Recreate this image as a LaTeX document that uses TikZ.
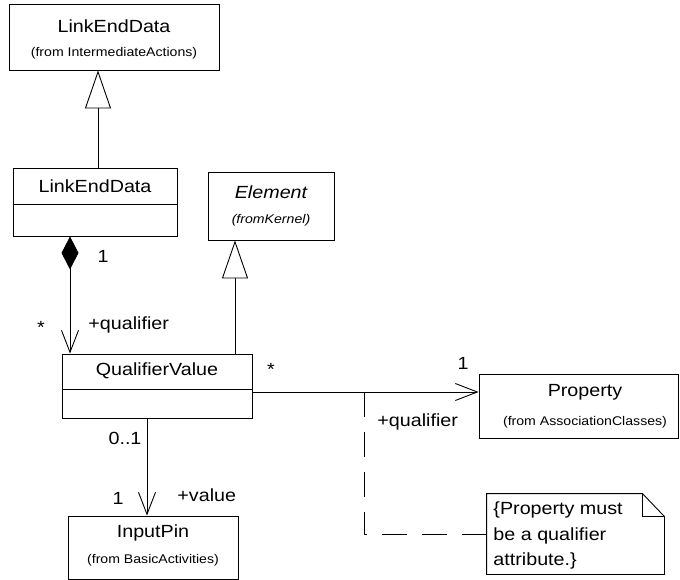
\documentclass[tikz,border=0pt]{standalone}
\usepackage{fontspec}
\setmainfont{Liberation Sans}[FakeStretch=1.12]
\usetikzlibrary{arrows.meta,calc}
\begin{document}
\begin{tikzpicture}[x=1pt,y=-1pt,
  line width=0.9pt,
  classbox/.style={draw, inner sep=0pt},
  nametext/.style={inner sep=0pt, font=\fontsize{17.6}{20}\selectfont},
  fromtext/.style={inner sep=0pt, font=\fontsize{12.6}{15}\selectfont},
  mult/.style={inner sep=0pt, font=\fontsize{17.6}{20}\selectfont},
  generalize/.style={-{Triangle[open, length=38pt, width=26pt]}},
  composite/.style={{Diamond[length=33pt, width=17pt, fill=black]}-{Straight Barb[length=22pt, width=17pt]}},
  navigable/.style={-{Straight Barb[length=22pt, width=17pt]}},
  noteline/.style={dash pattern=on 25pt off 15pt}
]
\useasboundingbox (0,0) rectangle (680,580);

% class boxes
\node[classbox, minimum width=210pt, minimum height=66pt] (led1) at (114,37) {};
\node[nametext] at (114,26) {LinkEndData};
\node[fromtext] at (114,53) {(from IntermediateActions)};

\node[classbox, minimum width=164pt, minimum height=68pt] (led2) at (95,202) {};
\node[nametext] at (95,186) {LinkEndData};
\draw (led2.west |- 0,204) -- (led2.east |- 0,204);

\node[classbox, minimum width=126pt, minimum height=68pt] (elem) at (271,206) {};
\node[nametext, font=\fontsize{17.6}{20}\selectfont\itshape] at (271,192) {Element};
\node[fromtext, font=\fontsize{12.6}{15}\selectfont\itshape] at (271,220) {(fromKernel)};

\node[classbox, minimum width=190pt, minimum height=64pt] (qv) at (157,386) {};
\node[nametext] at (157,371) {QualifierValue};
\draw (qv.west |- 0,389) -- (qv.east |- 0,389);

\node[classbox, minimum width=199.5pt, minimum height=64pt] (prop) at (578.75,406) {};
\node[nametext] at (585,392) {Property};
\node[fromtext] at (585,422) {(from AssociationClasses)};

\node[classbox, minimum width=170pt, minimum height=63pt] (ip) at (153,547.5) {};
\node[nametext] at (153,533) {InputPin};
\node[fromtext] at (153,560) {(from BasicActivities)};

% note with folded corner
\node[inner sep=0pt, minimum width=177pt, minimum height=80pt] (note) at (575.5,534) {};
\draw (note.north west) -- ($(note.north east)+(-22,0)$) coordinate (fold)
      -- ($(note.north east)+(0,23)$) -- (note.south east) -- (note.south west) -- cycle;
\draw (fold) -- ($(fold)+(0,23)$) -- ($(note.north east)+(0,23)$);
\node[nametext, anchor=west] at (493,510) {\{Property must};
\node[nametext, anchor=west] at (493,536) {be a qualifier};
\node[nametext, anchor=west] at (493,561) {attribute.\}};

% connectors
\draw[generalize] (led2.north -| 98,0) -- (led1.south -| 98,0);
\draw[generalize] (qv.north -| 235,0) -- (elem.south -| 235,0);
\draw[composite] (led2.south -| 70,0) -- (qv.north -| 70,0);
\draw[navigable] (qv.east |- 0,392) -- (prop.west |- 0,392);
\draw[navigable] (qv.south -| 147,0) -- (ip.north -| 147,0);
\coordinate (joint) at (364,392);
\draw[noteline] (note.west) -| (joint);

% multiplicities and role names
\node[mult] at (103,256) {1};
\node[mult] at (41,327) {*};
\node[mult, anchor=west] at (88,325) {+qualifier};
\node[mult] at (271,369) {*};
\node[mult] at (463,363) {1};
\node[mult, anchor=west] at (377,422) {+qualifier};
\node[mult] at (125,438) {0..1};
\node[mult] at (118,498) {1};
\node[mult, anchor=west] at (177,495) {+value};
\end{tikzpicture}
\end{document}
